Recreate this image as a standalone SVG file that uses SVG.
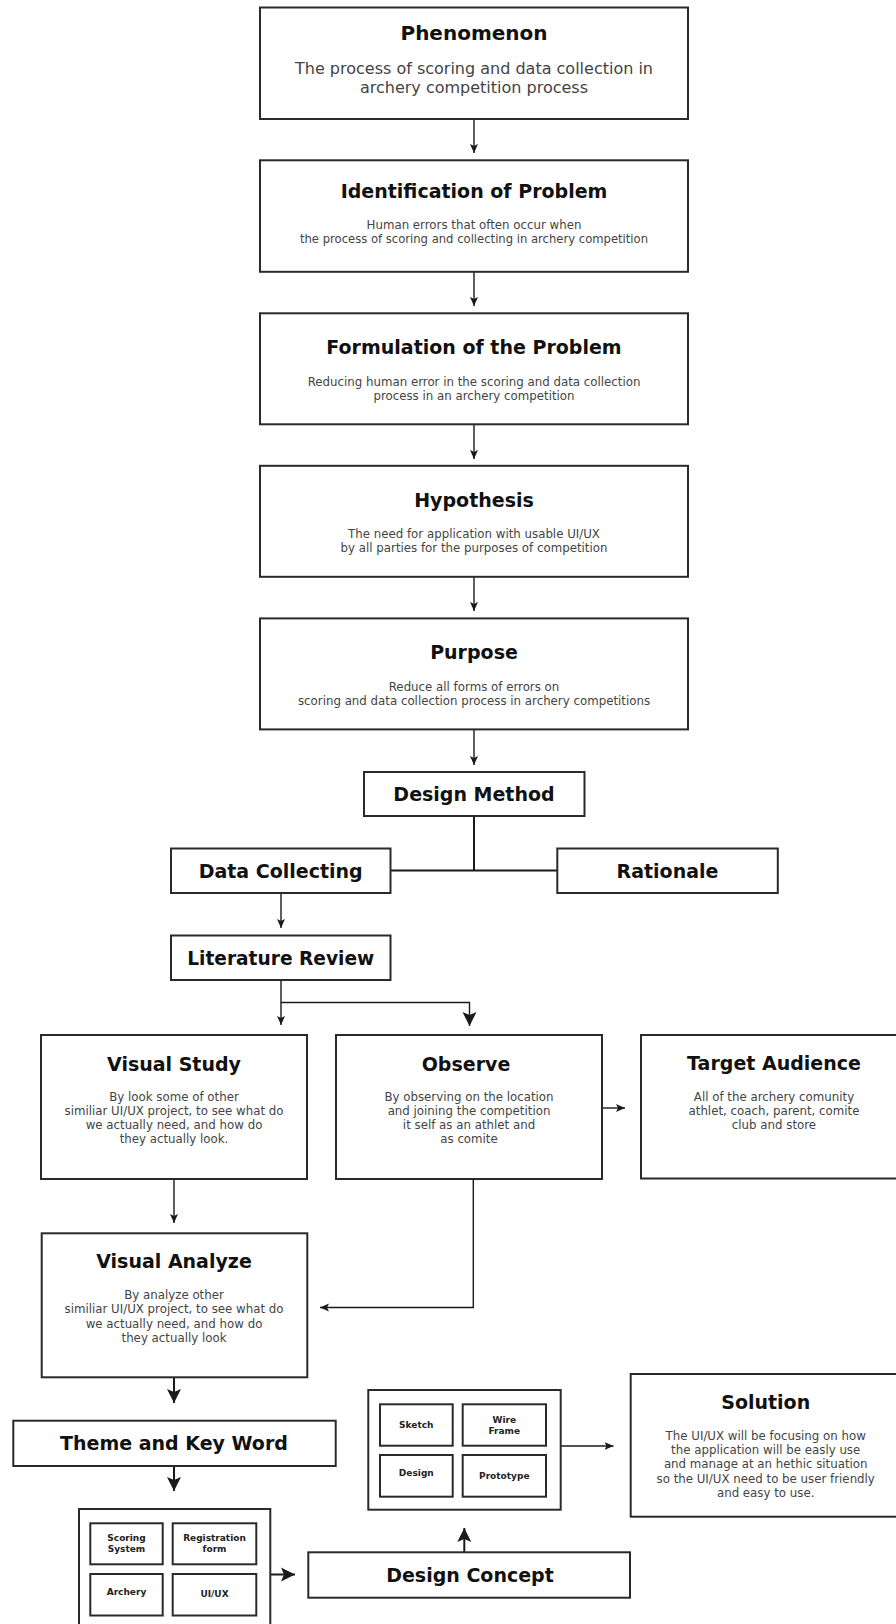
<svg xmlns="http://www.w3.org/2000/svg" width="896" height="1624" viewBox="0 0 896 1624">
<defs>
<marker id="arr" markerUnits="userSpaceOnUse" markerWidth="10" markerHeight="10" refX="9" refY="5" orient="auto"><path d="M0,1 L9,5 L0,9 L2,5 z" fill="#1a1a1a"/></marker>
<marker id="arrB" markerUnits="userSpaceOnUse" markerWidth="16" markerHeight="16" refX="14" refY="8" orient="auto"><path d="M0,1 L14,8 L0,15 L3,8 z" fill="#1a1a1a"/></marker>
</defs>
<style>
.box{fill:#fff;stroke:#2a2a2a;stroke-width:2}
.ibox{fill:#fff;stroke:#2a2a2a;stroke-width:2}
.t{font-family:"DejaVu Sans",sans-serif;font-weight:bold;fill:#111;text-anchor:middle;font-size:19px}
.s{font-family:"DejaVu Sans",sans-serif;fill:#444;text-anchor:middle;font-size:11.8px}
.k{font-family:"DejaVu Sans",sans-serif;font-weight:bold;fill:#222;text-anchor:middle;font-size:9px}
.c{fill:none;stroke:#1a1a1a;stroke-width:1.4}
.cb{fill:none;stroke:#1a1a1a;stroke-width:2}
</style>
<rect width="896" height="1624" fill="#fff"/>

<g id="connectors">
<line class="c" x1="474" y1="119" x2="474" y2="153" marker-end="url(#arr)"/>
<line class="c" x1="474" y1="272" x2="474" y2="306" marker-end="url(#arr)"/>
<line class="c" x1="474" y1="424" x2="474" y2="459" marker-end="url(#arr)"/>
<line class="c" x1="474" y1="577" x2="474" y2="611" marker-end="url(#arr)"/>
<line class="c" x1="474" y1="730" x2="474" y2="765" marker-end="url(#arr)"/>
<polyline class="cb" points="474,816 474,870.5"/>
<line class="cb" x1="390.5" y1="870.5" x2="557.3" y2="870.5"/>
<line class="c" x1="281" y1="893" x2="281" y2="928" marker-end="url(#arr)"/>
<line class="c" x1="281" y1="980" x2="281" y2="1025" marker-end="url(#arr)"/>
<polyline class="c" points="281,1002.5 469.5,1002.5 469.5,1026" marker-end="url(#arrB)"/>
<line class="c" x1="602" y1="1108" x2="625" y2="1108" marker-end="url(#arr)"/>
<line class="c" x1="174" y1="1179" x2="174" y2="1223" marker-end="url(#arr)"/>
<polyline class="c" points="473.3,1179 473.3,1307.5 320,1307.5" marker-end="url(#arr)"/>
<line class="cb" x1="174" y1="1377" x2="174" y2="1403" marker-end="url(#arrB)"/>
<line class="cb" x1="174" y1="1466" x2="174" y2="1491" marker-end="url(#arrB)"/>
<line class="cb" x1="270.3" y1="1574.5" x2="295" y2="1574.5" marker-end="url(#arrB)"/>
<line class="cb" x1="464.3" y1="1552.3" x2="464.3" y2="1528" marker-end="url(#arrB)"/>
<line class="c" x1="560.7" y1="1446" x2="613.5" y2="1446" marker-end="url(#arr)"/>
</g>

<g id="phenomenon">
<rect class="box" x="260" y="7.5" width="428" height="111.5"/>
<text class="t" x="474" y="40" style="font-size:20px">Phenomenon</text>
<text class="s" x="474" y="74" style="font-size:16px">The process of scoring and data collection in</text>
<text class="s" x="474" y="92.7" style="font-size:16px">archery competition process</text>
</g>

<g id="identification">
<rect class="box" x="260" y="160.3" width="428" height="111.5"/>
<text class="t" x="474" y="198">Identification of Problem</text>
<text class="s" x="474" y="229">Human errors that often occur when</text>
<text class="s" x="474" y="243.3" style="font-size:11.6px">the process of scoring and collecting in archery competition</text>
</g>

<g id="formulation">
<rect class="box" x="260" y="313.3" width="428" height="111"/>
<text class="t" x="474" y="354.3">Formulation of the Problem</text>
<text class="s" x="474" y="385.7">Reducing human error in the scoring and data collection</text>
<text class="s" x="474" y="400">process in an archery competition</text>
</g>

<g id="hypothesis">
<rect class="box" x="260" y="465.8" width="428" height="111"/>
<text class="t" x="474" y="506.7">Hypothesis</text>
<text class="s" x="474" y="537.7">The need for application with usable UI/UX</text>
<text class="s" x="474" y="552.3">by all parties for the purposes of competition</text>
</g>

<g id="purpose">
<rect class="box" x="260" y="618.4" width="428" height="111"/>
<text class="t" x="474" y="659.3">Purpose</text>
<text class="s" x="474" y="690.7">Reduce all forms of errors on</text>
<text class="s" x="474" y="705">scoring and data collection process in archery competitions</text>
</g>

<g id="design-method">
<rect class="box" x="364" y="772" width="220.5" height="44"/>
<text class="t" x="474" y="800.5">Design Method</text>
</g>

<g id="data-collecting">
<rect class="box" x="171" y="848.5" width="219.5" height="44.5"/>
<text class="t" x="280.7" y="877.5">Data Collecting</text>
</g>

<g id="rationale">
<rect class="box" x="557.3" y="848.5" width="220.5" height="44.5"/>
<text class="t" x="667.5" y="877.5">Rationale</text>
</g>

<g id="literature-review">
<rect class="box" x="171" y="935.5" width="219.5" height="44.5"/>
<text class="t" x="280.7" y="964.5" style="font-size:18.6px">Literature Review</text>
</g>

<g id="visual-study">
<rect class="box" x="41" y="1035" width="266" height="144"/>
<text class="t" x="174" y="1070.7">Visual Study</text>
<text class="s" x="174" y="1101">By look some of other</text>
<text class="s" x="174" y="1115">similiar UI/UX project, to see what do</text>
<text class="s" x="174" y="1129.3">we actually need, and how do</text>
<text class="s" x="174" y="1143.3">they actually look.</text>
</g>

<g id="observe">
<rect class="box" x="336" y="1035" width="266" height="144"/>
<text class="t" x="466" y="1070.7">Observe</text>
<text class="s" x="469" y="1101">By observing on the location</text>
<text class="s" x="469" y="1115">and joining the competition</text>
<text class="s" x="469" y="1129.3">it self as an athlet and</text>
<text class="s" x="469" y="1143.3">as comite</text>
</g>

<g id="target-audience">
<rect class="box" x="641" y="1035" width="266" height="143.5"/>
<text class="t" x="774" y="1070">Target Audience</text>
<text class="s" x="774" y="1101">All of the archery comunity</text>
<text class="s" x="774" y="1115">athlet, coach, parent, comite</text>
<text class="s" x="774" y="1129.3">club and store</text>
</g>

<g id="visual-analyze">
<rect class="box" x="41.7" y="1233.3" width="265.6" height="144"/>
<text class="t" x="174" y="1268.3">Visual Analyze</text>
<text class="s" x="174" y="1299.3">By analyze other</text>
<text class="s" x="174" y="1313.3">similiar UI/UX project, to see what do</text>
<text class="s" x="174" y="1327.5">we actually need, and how do</text>
<text class="s" x="174" y="1341.5">they actually look</text>
</g>

<g id="theme-key-word">
<rect class="box" x="13.3" y="1420.7" width="322.4" height="45.3"/>
<text class="t" x="174" y="1450">Theme and Key Word</text>
</g>

<g id="keyword-panel">
<rect class="box" x="79" y="1509" width="191.3" height="130"/>
<rect class="ibox" x="90.3" y="1523.3" width="72.4" height="41"/>
<text class="k" x="126.5" y="1540.7">Scoring</text>
<text class="k" x="126.5" y="1552">System</text>
<rect class="ibox" x="172.7" y="1523.3" width="83.6" height="41"/>
<text class="k" x="214.5" y="1541">Registration</text>
<text class="k" x="214.5" y="1552.3">form</text>
<rect class="ibox" x="90.3" y="1574" width="72.4" height="41.5"/>
<text class="k" x="126.5" y="1595">Archery</text>
<rect class="ibox" x="172.7" y="1574" width="83.6" height="41.5"/>
<text class="k" x="214.5" y="1597">UI/UX</text>
</g>

<g id="design-concept">
<rect class="box" x="308.3" y="1552.3" width="321.7" height="45.4"/>
<text class="t" x="470" y="1581.7">Design Concept</text>
</g>

<g id="design-panel">
<rect class="box" x="368.3" y="1390" width="192.4" height="119.7"/>
<rect class="ibox" x="380" y="1404.3" width="72.7" height="41.4"/>
<text class="k" x="416.3" y="1427.5">Sketch</text>
<rect class="ibox" x="462.7" y="1404.3" width="83.3" height="41.4"/>
<text class="k" x="504.3" y="1422.7">Wire</text>
<text class="k" x="504.3" y="1434">Frame</text>
<rect class="ibox" x="380" y="1455" width="72.7" height="41.7"/>
<text class="k" x="416.3" y="1476.3">Design</text>
<rect class="ibox" x="462.7" y="1455" width="83.3" height="41.7"/>
<text class="k" x="504.3" y="1478.5">Prototype</text>
</g>

<g id="solution">
<rect class="box" x="630.7" y="1374" width="270" height="142.7"/>
<text class="t" x="765.7" y="1409.3">Solution</text>
<text class="s" x="765.7" y="1440">The UI/UX will be focusing on how</text>
<text class="s" x="765.7" y="1454">the application will be easly use</text>
<text class="s" x="765.7" y="1468">and manage at an hethic situation</text>
<text class="s" x="765.7" y="1482.5">so the UI/UX need to be user friendly</text>
<text class="s" x="765.7" y="1497">and easy to use.</text>
</g>
</svg>
